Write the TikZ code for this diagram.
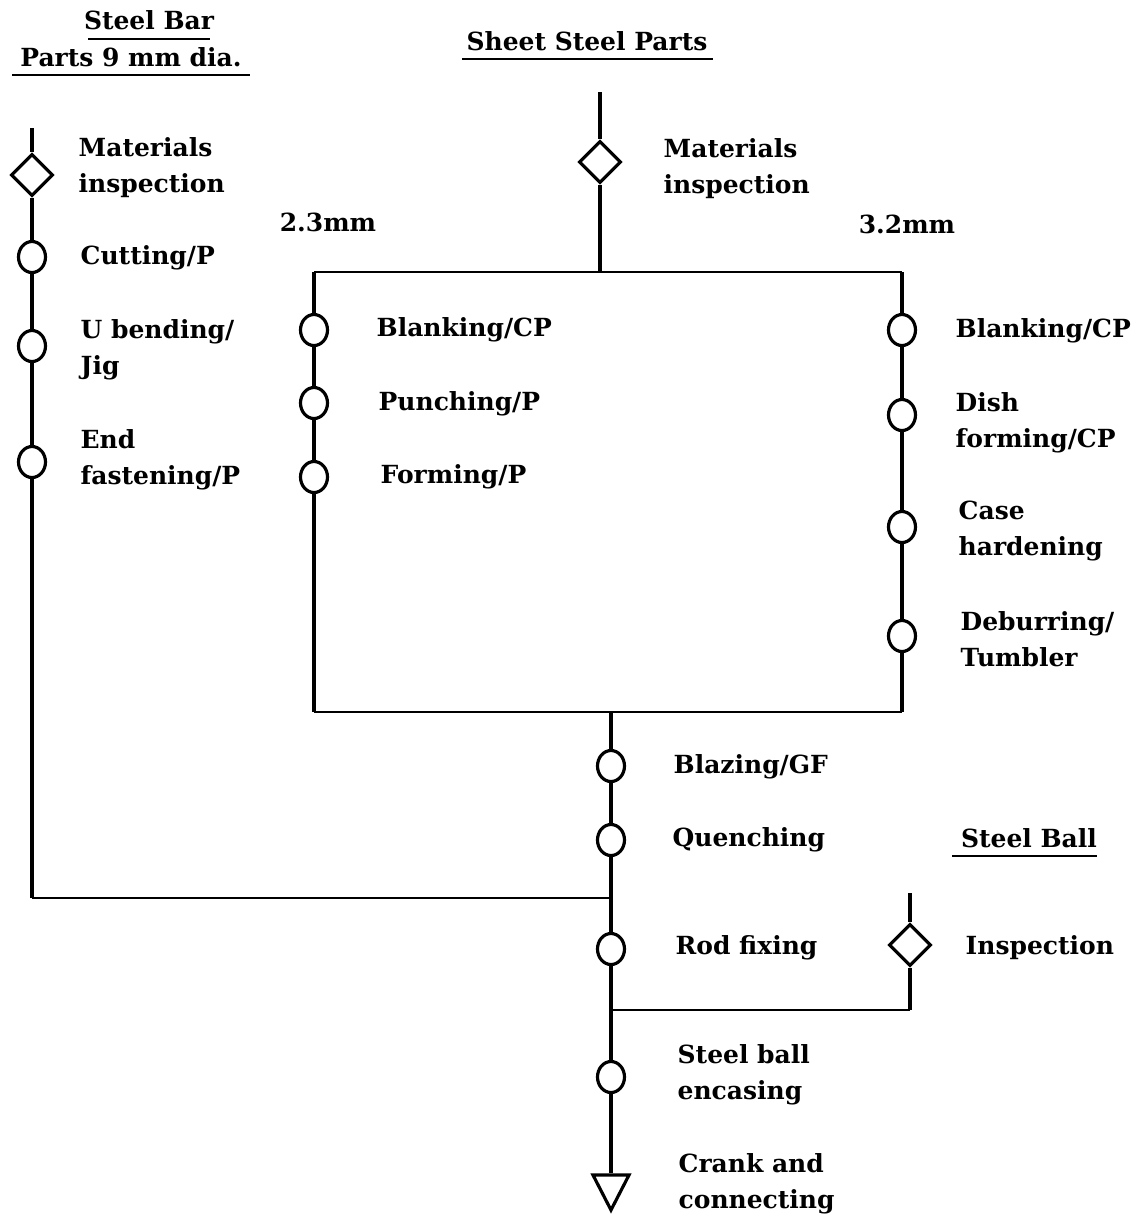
\documentclass[tikz,border=0pt]{standalone}
\usepackage{fontspec}
\setmainfont{DejaVu Serif}
\usetikzlibrary{shapes.geometric,positioning}
\newcommand{\lblfont}{\bfseries\fontsize{7.1pt}{10.2pt}\selectfont}

\begin{document}
\begin{tikzpicture}[x=0.01cm,y=-0.01cm,
  op/.style={draw,ellipse,line width=0.9pt,minimum width=0.27cm,minimum height=0.31cm,inner sep=0pt},
  insp/.style={draw,diamond,line width=0.9pt,minimum width=0.42cm,minimum height=0.42cm,inner sep=0pt},
  store/.style={draw,isosceles triangle,shape border rotate=-90,isosceles triangle stretches,
    line width=0.9pt,minimum width=0.36cm,minimum height=0.35cm,inner sep=0pt},
  flow/.style={line width=1.3pt},
  tie/.style={line width=0.8pt},
  lbl/.style={anchor=west,align=left,inner sep=0pt,font=\lblfont},
  head/.style={inner sep=0pt,font=\lblfont}]
\useasboundingbox (0,0) rectangle (1135,1220);

% Headings
\node[head] (hbar) at (149,20) {Steel Bar};
\node[head] (hdia) at (131,57) {Parts 9 mm dia.};
\node[head] (hsheet) at (587,41) {Sheet Steel Parts};
\node[head] (hball) at (1029,838) {Steel Ball};
\draw[tie] (88,39) -- (210,39);
\draw[tie] (12,75) -- (250,75);
\draw[tie] (462,59) -- (713,59);
\draw[tie] (952,856) -- (1097,856);

% Steel bar line
\coordinate (bartop) at (32,128);
\node[insp] (bar0) at (32,175) {};
\foreach \n/\y in {1/257, 2/346, 3/462}
  \node[op] (bar\n) at (32,\y) {};
\coordinate (barend) at (32,898);
\draw[flow] (bartop) -- (bar0) -- (bar1) -- (bar2) -- (bar3) -- (barend);

% Sheet steel line
\coordinate (sheettop) at (600,92);
\node[insp] (sheet0) at (600,162) {};
\coordinate (split) at (600,272);
\coordinate (lt) at (314,272);
\coordinate (rt) at (902,272);
\draw[flow] (sheettop) -- (sheet0) -- (split);
\draw[tie] (lt) -- (rt);
% 2.3mm branch
\foreach \n/\y in {1/330, 2/403, 3/477}
  \node[op] (thin\n) at (314,\y) {};
\coordinate (lb) at (314,712);
\draw[flow] (lt) -- (thin1) -- (thin2) -- (thin3) -- (lb);
% 3.2mm branch
\foreach \n/\y in {1/330, 2/415, 3/527, 4/636}
  \node[op] (thick\n) at (902,\y) {};
\coordinate (rb) at (902,712);
\draw[flow] (rt) -- (thick1) -- (thick2) -- (thick3) -- (thick4) -- (rb);
\draw[tie] (lb) -- (rb);

% Main line
\coordinate (merge) at (611,712);
\foreach \n/\y in {1/766, 2/840, 3/949, 4/1077}
  \node[op] (main\n) at (611,\y) {};
\node[store] (final) at (611,1186) {};
\coordinate (join1) at (611,898);
\coordinate (join2) at (611,1010);
\draw[flow] (merge) -- (main1) -- (main2) -- (join1) -- (main3) -- (join2) -- (main4) -- (final);
\draw[tie] (barend) -- (join1);

% Steel ball line
\coordinate (balltop) at (910,893);
\node[insp] (ball0) at (910,945) {};
\coordinate (ballend) at (910,1010);
\draw[flow] (balltop) -- (ball0) -- (ballend);
\draw[tie] (ballend) -- (join2);

% Labels
\node[head] (gthin) at (328,222) {2.3mm};
\node[head] (gthick) at (907,224) {3.2mm};
\foreach \n/\x/\y/\t in {
  la/78/168/{Materials\\inspection},
  lb/80/258/{Cutting/P},
  lc/80/350/{U bending/\\Jig},
  ld/80/460/{End\\fastening/P},
  le/376/330/{Blanking/CP},
  lf/378/404/{Punching/P},
  lg/380/477/{Forming/P},
  lh/663/169/{Materials\\inspection},
  li/955/331/{Blanking/CP},
  lj/955/423/{Dish\\forming/CP},
  lk/958/531/{Case\\hardening},
  ll/960/639/{Deburring/\\Tumbler},
  lm/673/767/{Blazing/GF},
  ln/672/840/{Quenching},
  lo/675/948/{Rod fixing},
  lp/965/948/{Inspection},
  lq/677/1075/{Steel ball\\encasing},
  lr/678/1184/{Crank and\\connecting}}
  \node[lbl] (\n) at (\x,\y) {\t};
\end{tikzpicture}
\end{document}
